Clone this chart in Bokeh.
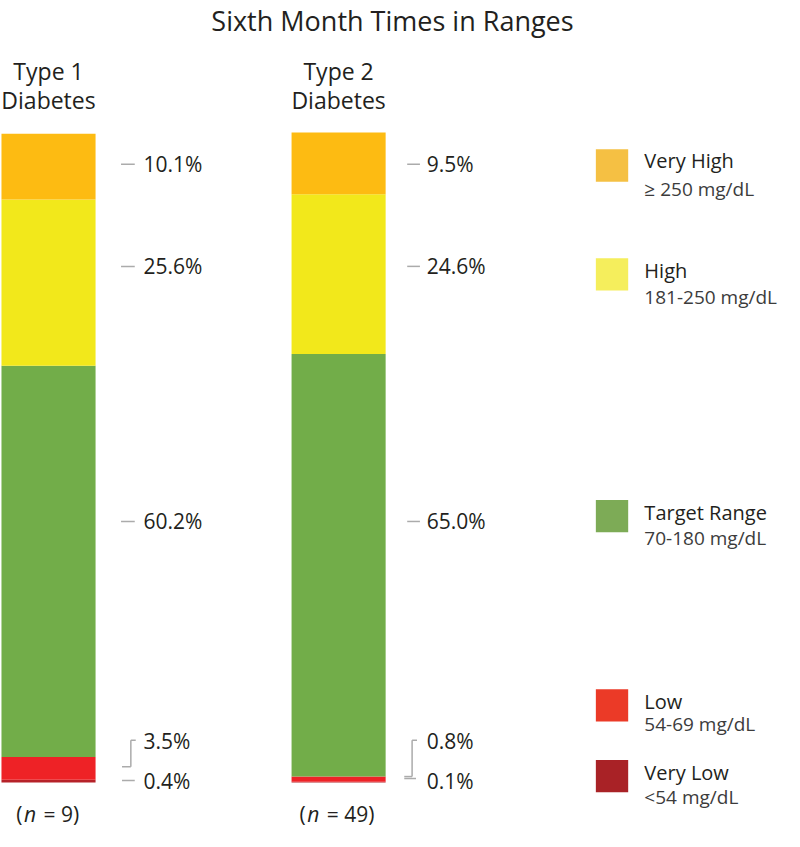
from bokeh.plotting import figure
from bokeh.models import Range1d, ColumnDataSource
from bokeh.core.properties import value
from bokeh.embed import file_html
from bokeh.resources import INLINE

# ---------------- data ----------------
title_text = "Sixth Month Times in Ranges"
groups_line1 = ["Type 1", "Type 2"]
groups_line2 = ["Diabetes", "Diabetes"]
n_values = [9, 49]
categories = ["Very High", "High", "Target Range", "Low", "Very Low"]
range_labels = ["\u2265 250 mg/dL", "181-250 mg/dL", "70-180 mg/dL", "54-69 mg/dL", "<54 mg/dL"]
type1_pct = [10.1, 25.6, 60.2, 3.5, 0.4]
type2_pct = [9.5, 24.6, 65.0, 0.8, 0.1]

# ---------------- style ----------------
bar_colors = ["#FDBB12", "#F2E81B", "#72AD49", "#EE2226", "#B62229"]
legend_colors = ["#F5C043", "#F5EE5C", "#7DAB56", "#EB3A27", "#A92226"]
TEXT = "#231F20"
SUB = "#3C3C3C"
LINE = "#ABABAB"
FONT = value("Open Sans")

# ---------------- layout (reference pixel space) ----------------
W, H = 784, 831
REF_W, REF_H = 800, 847
BAR_X0, BAR_DX, BAR_W = 49, 296, 96
BAR_TOP, BAR_BOTTOM = 134.5, 797.0


def gx(rx):
    return (rx - BAR_X0) / BAR_DX


def gy(ry):
    return (BAR_BOTTOM - ry) * 100.0 / (BAR_BOTTOM - BAR_TOP)


p = figure(width=W, height=H, output_backend="svg", toolbar_location=None,
           x_range=Range1d(gx(0), gx(REF_W)), y_range=Range1d(gy(REF_H), gy(0)),
           x_axis_location=None, y_axis_location=None, min_border=0,
           outline_line_color=None, tools="")
p.grid.visible = False
p.background_fill_color = "white"
p.border_fill_color = "white"

# stacked bars (bottom to top)
src = {"x": [0, 1]}
for i, c in enumerate(categories):
    src[c] = [type1_pct[i], type2_pct[i]]
source = ColumnDataSource(src)
p.vbar_stack(categories[::-1], x="x", width=BAR_W / BAR_DX, color=bar_colors[::-1],
             line_color=None, source=source)

# title
p.text(x=[gx(400)], y=[gy(20)], text=[title_text], text_font=FONT, text_font_size="27px",
       text_color=TEXT, text_align="center", text_baseline="middle")

# group headers
for g in range(2):
    p.text(x=[g, g], y=[gy(72), gy(101)], text=[groups_line1[g], groups_line2[g]],
           text_font=FONT, text_font_size="23px", text_color=TEXT,
           text_align="center", text_baseline="middle")

# n labels
n_paren_x = [16, 305]
n_italic_x = [24, 313]
n_rest_x = [44, 333]
for g in range(2):
    y = gy(829)
    p.text(x=[gx(n_paren_x[g])], y=[y], text=["("], text_font=FONT, text_font_size="21px",
           text_color=TEXT, text_align="left", text_baseline="middle")
    p.text(x=[gx(n_italic_x[g])], y=[y], text=["n"], text_font=FONT, text_font_size="21px",
           text_font_style="italic", text_color=TEXT, text_align="left", text_baseline="middle")
    p.text(x=[gx(n_rest_x[g])], y=[y], text=[f"= {n_values[g]})"], text_font=FONT,
           text_font_size="21px", text_color=TEXT, text_align="left", text_baseline="middle")

# percentage labels
label_y = [167, 271, 531, 755, 796]
text_left = [146, 435]
dash_x = [(123, 137), (415, 428)]
for g, vals in enumerate([type1_pct, type2_pct]):
    p.text(x=[gx(text_left[g])] * 5, y=[gy(v) for v in label_y],
           text=[f"{v:.1f}%" for v in vals], text_font=FONT, text_font_size="21px",
           text_color=TEXT, text_align="left", text_baseline="middle")
    d0, d1 = dash_x[g]
    p.segment(x0=[gx(d0)] * 3, y0=[gy(v) for v in label_y[:3]],
              x1=[gx(d1)] * 3, y1=[gy(v) for v in label_y[:3]],
              line_color=LINE, line_width=1.5)

# brackets for low labels
brackets = [
    [(133, 754, 138, 754), (133, 754, 133, 781), (124, 781, 133, 781), (124, 795, 137, 795)],
    [(420, 754, 425, 754), (420, 754, 420, 791), (412, 791, 420, 791), (412, 793, 424, 793)],
]
for segs in brackets:
    p.segment(x0=[gx(s[0]) for s in segs], y0=[gy(s[1]) for s in segs],
              x1=[gx(s[2]) for s in segs], y1=[gy(s[3]) for s in segs],
              line_color=LINE, line_width=1.5)

# legend
sq_top = [151.7, 262.7, 509, 702, 774]
name_y = [163, 275, 521.7, 715, 786.7]
range_y = [191.7, 301.7, 548.3, 737, 811.7]
p.quad(left=[gx(607.5)] * 5, right=[gx(640.5)] * 5,
       top=[gy(t) for t in sq_top], bottom=[gy(t + 33) for t in sq_top],
       color=legend_colors, line_color=None)
p.text(x=[gx(657)] * 5, y=[gy(v) for v in name_y], text=categories, text_font=FONT,
       text_font_size="20px", text_color=TEXT, text_align="left", text_baseline="middle")
p.text(x=[gx(657)] * 5, y=[gy(v) for v in range_y], text=range_labels, text_font=FONT,
       text_font_size="19px", text_color=SUB, text_align="left", text_baseline="middle")

open("out.html", "w").write(file_html(p, INLINE))
